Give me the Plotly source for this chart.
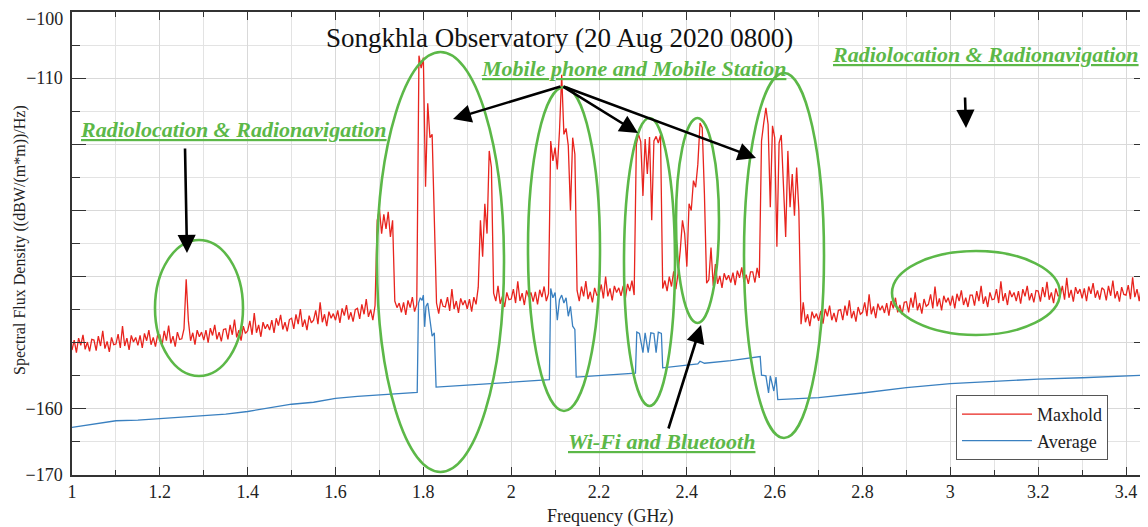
import plotly.graph_objects as go

# ---------------- data ----------------
F_START = 1.0      # GHz, first sample of the Maxhold sweep
F_STEP = 0.005     # GHz between Maxhold samples

maxhold = [
    # 1.000 - 1.045
    -151.1, -149.6, -151.5, -149.3, -150.4, -148.8, -151.0, -149.9, -151.3, -149.5,
    # 1.050
    -149.6, -151.2, -149.0, -150.5, -148.2, -150.9, -149.8, -151.4, -149.2, -150.3,
    # 1.100
    -150.2, -148.7, -150.8, -147.5, -150.5, -149.3, -151.1, -148.9, -149.9, -149.2,
    # 1.150
    -150.4, -148.9, -150.8, -148.6, -149.7, -148.1, -150.3, -149.2, -150.6, -148.8,
    # 1.200
    -148.8, -150.4, -148.2, -149.7, -147.4, -150.1, -149.0, -150.6, -148.4, -149.5,
    # 1.250
    -149.4, -147.9, -140.4, -146.7, -149.7, -148.5, -150.3, -148.1, -149.1, -148.4,
    # 1.300
    -149.6, -148.1, -150.0, -147.8, -148.9, -147.3, -149.5, -148.4, -149.8, -148.0,
    # 1.350
    -147.9, -149.5, -147.3, -148.8, -146.5, -149.2, -148.1, -149.7, -147.5, -148.6,
    # 1.400
    -148.2, -146.7, -148.8, -145.5, -148.5, -147.3, -149.1, -146.9, -147.9, -147.2,
    # 1.450
    -148.1, -146.6, -148.5, -146.3, -147.4, -145.8, -148.0, -146.9, -148.3, -146.5,
    # 1.500
    -146.3, -147.9, -145.7, -147.2, -144.9, -147.6, -146.5, -148.1, -145.9, -147.0,
    # 1.550
    -146.6, -145.1, -147.2, -143.9, -146.9, -145.7, -147.5, -145.3, -146.3, -145.6,
    # 1.600
    -146.6, -145.1, -147.0, -144.8, -145.9, -144.3, -146.5, -145.4, -146.8, -145.0,
    # 1.650
    -144.8, -146.4, -144.2, -145.7, -143.4, -146.1, -145.0, -146.6, -144.4, -131.5,
    # 1.700
    -129.8, -133.5, -130.6, -132.8, -130.2, -134.0, -131.5, -143.7, -144.7, -144.0,
    # 1.750
    -145.4, -143.9, -145.8, -143.6, -144.7, -143.1, -145.3, -144.2, -106.6, -108.5,
    # 1.800
    -106.9, -126.4, -113.8, -119.0, -118.5, -130.0, -144.0, -145.6, -143.4, -144.5,
    # 1.850
    -144.6, -143.1, -145.2, -141.9, -144.9, -143.7, -145.5, -143.3, -144.3, -143.6,
    # 1.900
    -144.9, -143.4, -145.3, -143.1, -144.2, -141.6, -131.5, -137.0, -129.0, -133.5,
    # 1.950
    -121.0, -123.5, -142.5, -143.7, -141.4, -144.1, -143.0, -144.6, -142.4, -143.5,
    # 2.000
    -143.4, -141.9, -144.0, -140.7, -143.7, -142.5, -144.3, -142.1, -143.1, -142.4,
    # 2.050
    -143.8, -142.3, -144.2, -142.0, -143.1, -141.5, -143.7, -142.6, -119.5, -122.5,
    # 2.100
    -120.5, -123.8, -118.0, -109.5, -118.5, -117.6, -120.2, -130.0, -119.0, -121.5,
    # 2.150
    -142.1, -143.7, -141.5, -143.0, -140.7, -143.4, -142.3, -143.9, -141.7, -142.8,
    # 2.200
    -142.7, -141.2, -143.3, -140.0, -143.0, -141.8, -143.6, -141.4, -142.4, -141.7,
    # 2.250
    -142.9, -141.4, -143.3, -141.1, -142.2, -140.6, -142.8, -120.0, -118.5, -119.6,
    # 2.300
    -127.8, -119.2, -124.5, -118.9, -131.5, -119.5, -118.8, -119.8, -118.6, -141.8,
    # 2.350
    -140.6, -142.2, -140.0, -141.5, -139.2, -141.9, -139.5, -136.0, -131.5, -133.5,
    # 2.400
    -138.5, -129.0, -130.0, -125.5, -126.5, -123.0, -116.8, -117.5, -127.5, -141.0,
    # 2.450
    -140.5, -135.6, -141.4, -138.1, -141.1, -139.9, -141.7, -139.5, -140.5, -139.8,
    # 2.500
    -140.9, -139.4, -141.3, -139.1, -140.2, -138.6, -140.8, -139.7, -141.1, -139.3,
    # 2.550
    -139.3, -140.9, -138.7, -140.2, -119.5, -116.8, -114.5, -117.0, -129.5, -117.2,
    # 2.600
    -119.0, -135.5, -119.8, -118.6, -127.0, -134.0, -121.0, -129.5, -124.5, -130.8,
    # 2.650
    -123.5, -130.0, -147.2, -143.9, -146.9, -145.7, -147.5, -145.3, -146.3, -145.6,
    # 2.700
    -146.7, -145.2, -147.1, -144.9, -146.0, -144.4, -146.6, -145.5, -146.9, -145.1,
    # 2.750
    -145.0, -146.6, -144.4, -145.9, -143.6, -146.3, -145.2, -146.8, -144.6, -145.7,
    # 2.800
    -145.4, -143.9, -146.0, -142.7, -145.7, -144.5, -146.3, -144.1, -145.1, -144.4,
    # 2.850
    -145.5, -144.0, -145.9, -143.7, -144.8, -143.2, -145.4, -144.3, -145.7, -143.9,
    # 2.900
    -143.8, -145.4, -143.2, -144.7, -142.4, -145.1, -144.0, -145.6, -143.4, -144.5,
    # 2.950
    -144.2, -142.7, -144.8, -141.5, -144.5, -143.3, -145.1, -142.9, -143.9, -143.2,
    # 3.000
    -144.4, -142.9, -144.8, -142.6, -143.7, -142.1, -144.3, -143.2, -144.6, -142.8,
    # 3.050
    -142.8, -144.4, -142.2, -143.7, -141.4, -144.1, -143.0, -144.6, -142.4, -143.5,
    # 3.100
    -143.4, -141.9, -144.0, -140.7, -143.7, -142.5, -144.3, -142.1, -143.1, -142.4,
    # 3.150
    -143.7, -142.2, -144.1, -141.9, -143.0, -141.4, -143.6, -142.5, -143.9, -142.1,
    # 3.200
    -142.2, -143.8, -141.6, -143.1, -140.8, -143.5, -142.4, -144.0, -141.8, -142.9,
    # 3.250
    -142.9, -141.4, -143.5, -140.2, -143.2, -142.0, -143.8, -141.6, -142.6, -141.9,
    # 3.300
    -143.3, -141.8, -143.7, -141.5, -142.6, -141.0, -143.2, -142.1, -143.5, -141.7,
    # 3.350
    -142.0, -143.6, -141.4, -142.9, -140.6, -143.3, -142.2, -143.8, -141.6, -142.7,
    # 3.400 - 3.450
    -142.8, -141.3, -143.4, -140.1, -143.1, -141.9, -143.7, -141.5, -142.5, -141.8, -142.6,
]
maxhold_freq = [round(F_START + i * F_STEP, 3) for i in range(len(maxhold))]

average_freq = [
    1.000, 1.050, 1.100, 1.150, 1.200, 1.250, 1.300, 1.350, 1.400, 1.450,
    1.500, 1.550, 1.600, 1.650, 1.700, 1.750, 1.786, 1.789, 1.793, 1.797,
    1.800, 1.803, 1.806, 1.810, 1.815, 1.820, 1.825, 1.829, 1.900, 2.000,
    2.087, 2.090, 2.095, 2.100, 2.105, 2.110, 2.115, 2.120, 2.125, 2.130,
    2.135, 2.140, 2.145, 2.148, 2.200, 2.283, 2.286, 2.292, 2.300, 2.305,
    2.312, 2.318, 2.325, 2.330, 2.335, 2.342, 2.345, 2.400, 2.425, 2.430,
    2.440, 2.500, 2.567, 2.570, 2.580, 2.586, 2.590, 2.598, 2.603, 2.607,
    2.700, 2.800, 2.900, 3.000, 3.100, 3.200, 3.300, 3.450,
]
average = [
    -162.8, -162.3, -161.8, -161.7, -161.5, -161.3, -161.0, -160.8, -160.4, -159.8,
    -159.3, -159.0, -158.4, -158.1, -157.9, -157.7, -157.5, -144.0, -143.2, -143.6,
    -142.8, -147.6, -144.5, -144.0, -147.0, -149.0, -148.5, -156.7, -156.4, -156.0,
    -155.6, -141.8, -143.2, -142.4, -146.6, -143.5, -142.8, -144.0, -143.2, -146.0,
    -144.5, -147.5, -148.0, -155.2, -155.0, -154.6, -148.4, -148.6, -151.5, -148.5,
    -151.5, -148.5, -148.6, -151.5, -148.4, -148.6, -153.8, -153.4, -153.2, -152.8,
    -153.1, -152.7, -152.1, -154.9, -155.0, -157.6, -155.0, -157.3, -155.2, -158.6,
    -158.3, -157.6, -156.8, -156.2, -155.8, -155.5, -155.3, -154.9,
]

x_tick_vals = [1, 1.2, 1.4, 1.6, 1.8, 2, 2.2, 2.4, 2.6, 2.8, 3, 3.2, 3.4]
x_tick_text = ["1", "1.2", "1.4", "1.6", "1.8", "2", "2.2", "2.4", "2.6", "2.8", "3", "3.2", "3.4"]
y_tick_vals = [-170, -160, -150, -140, -130, -120, -110, -100]
# the top label (-100) is drawn separately so it is not clipped at the page edge
y_tick_text = ["\u2212170", "\u2212160", "", "", "", "", "\u2212110", ""]
y_top_label = "\u2212100"

# ---------------- layout geometry ----------------
# The page body adds an 8 px offset; positions below are page pixels.
OFF = 8
PAGE_W, PAGE_H = 1148, 527
L_PG, T_PG, BOT_PG = 72, 12, 475          # plot area edges on the page
FIG_W, FIG_H = PAGE_W - OFF, PAGE_H - OFF
PW, PH = PAGE_W - L_PG, BOT_PG - T_PG
X0, X1 = 1.0, 3.45
Y0, Y1 = -170.0, -100.0


def fx(px):
    return X0 + (px - L_PG) / PW * (X1 - X0)


def fy(py):
    return Y1 - (py - T_PG) / PH * (Y1 - Y0)


def paper_x(px):
    return (px - L_PG) / PW


def paper_y(py):
    return (BOT_PG - py) / PH


RED = "#e8241e"
BLUE = "#3a80c0"
GREEN = "#5cb848"
SERIF = "Liberation Serif, Times New Roman, serif"

fig = go.Figure()
fig.add_trace(go.Scatter(x=maxhold_freq, y=maxhold, mode="lines", name="Maxhold",
                         line=dict(color=RED, width=1.3)))
fig.add_trace(go.Scatter(x=average_freq, y=average, mode="lines", name="Average",
                         line=dict(color=BLUE, width=1.3)))

# ellipses (page-pixel boxes converted to data coords)
ellipses = [
    (155, 240, 243, 376),
    (377, 52, 504, 472),
    (528, 87, 600, 411),
    (624, 118, 675, 406),
    (676, 118, 719, 323),
    (744, 73, 824, 438),
    (892, 251, 1060, 335),
]
for (a, b, c, d) in ellipses:
    fig.add_shape(type="circle", xref="x", yref="y", x0=fx(a), x1=fx(c), y0=fy(d), y1=fy(b),
                  line=dict(color=GREEN, width=2.6), layer="above")

# arrows: (tail_px, tail_py, head_px, head_py)
arrows = [
    (185, 147, 187, 253),
    (562, 86, 453, 119),
    (562, 86, 638, 133),
    (562, 86, 756, 158),
    (965, 96, 966, 128),
    (668, 430, 701, 325),
]
for (tx, ty, hx, hy) in arrows:
    fig.add_annotation(x=fx(hx), y=fy(hy), ax=fx(tx), ay=fy(ty), xref="x", yref="y",
                       axref="x", ayref="y", text="", showarrow=True, arrowhead=2,
                       arrowsize=1.4, arrowwidth=2.6, arrowcolor="black", standoff=0)

labels = [
    ("Radiolocation & Radionavigation", 233, 130),
    ("Mobile phone and Mobile Station", 633, 68),
    ("Radiolocation & Radionavigation", 985, 55),
    ("Wi-Fi and Bluetooth", 661, 441),
]
for (txt, cx, cy) in labels:
    fig.add_annotation(x=paper_x(cx), y=paper_y(cy), xref="paper", yref="paper",
                       text="<b><i><u>" + txt + "</u></i></b>", showarrow=False,
                       font=dict(family=SERIF, size=22, color=GREEN),
                       xanchor="center", yanchor="middle")

# top y tick label
fig.add_annotation(x=paper_x(64), y=paper_y(19), xref="paper", yref="paper",
                   text=y_top_label, showarrow=False, borderpad=0,
                   font=dict(family=SERIF, size=18, color="#222"),
                   xanchor="right", yanchor="middle")

# title and axis titles
fig.add_annotation(x=paper_x(559), y=paper_y(38), xref="paper", yref="paper",
                   text="Songkhla Observatory (20 Aug 2020 0800)", showarrow=False,
                   font=dict(family=SERIF, size=27, color="#111"),
                   xanchor="center", yanchor="middle")
fig.add_annotation(x=paper_x(610), y=paper_y(516), xref="paper", yref="paper",
                   text="Frequency (GHz)", showarrow=False,
                   font=dict(family=SERIF, size=18, color="#222"),
                   xanchor="center", yanchor="middle")
fig.add_annotation(x=paper_x(20), y=paper_y(240), xref="paper", yref="paper",
                   text="Spectral Flux Density ((dBW/(m*m))/Hz)", showarrow=False,
                   textangle=-90, font=dict(family=SERIF, size=16, color="#222"),
                   xanchor="center", yanchor="middle")

fig.update_layout(
    width=FIG_W, height=FIG_H,
    margin=dict(l=L_PG - OFF, r=0, t=T_PG - OFF, b=FIG_H - (BOT_PG - OFF)),
    paper_bgcolor="white", plot_bgcolor="white",
    font=dict(family=SERIF, size=18, color="#222"),
    showlegend=True,
    legend=dict(x=paper_x(956), y=paper_y(395), xanchor="left", yanchor="top",
                bgcolor="white", bordercolor="#555", borderwidth=1,
                font=dict(family=SERIF, size=18, color="#222"),
                itemwidth=70, tracegroupgap=0),
    xaxis=dict(range=[X0, X1], tickvals=x_tick_vals, ticktext=x_tick_text,
               ticks="inside", ticklen=8, tickcolor="#333", showline=True, linecolor="#333",
               linewidth=1.5, mirror="ticks", showgrid=True, gridcolor="#d9d9d9", gridwidth=1,
               zeroline=False, automargin=False, ticklabeloverflow="allow",
               minor=dict(dtick=0.1, tick0=1, showgrid=True, gridcolor="#e3e3e3",
                          ticks="inside", ticklen=5, tickcolor="#333"),
               tickfont=dict(family=SERIF, size=18)),
    yaxis=dict(range=[Y0, Y1], tickvals=y_tick_vals, ticktext=y_tick_text,
               ticks="inside", ticklen=14, tickcolor="#333", showline=True, linecolor="#333",
               linewidth=1.5, mirror="ticks", showgrid=True, gridcolor="#d9d9d9", gridwidth=1,
               zeroline=False, automargin=False, ticklabelstandoff=4,
               ticklabeloverflow="allow",
               minor=dict(dtick=5, tick0=-170, showgrid=True, gridcolor="#e3e3e3",
                          ticks="inside", ticklen=8, tickcolor="#333"),
               tickfont=dict(family=SERIF, size=18)),
)

fig.write_html("out.html")
